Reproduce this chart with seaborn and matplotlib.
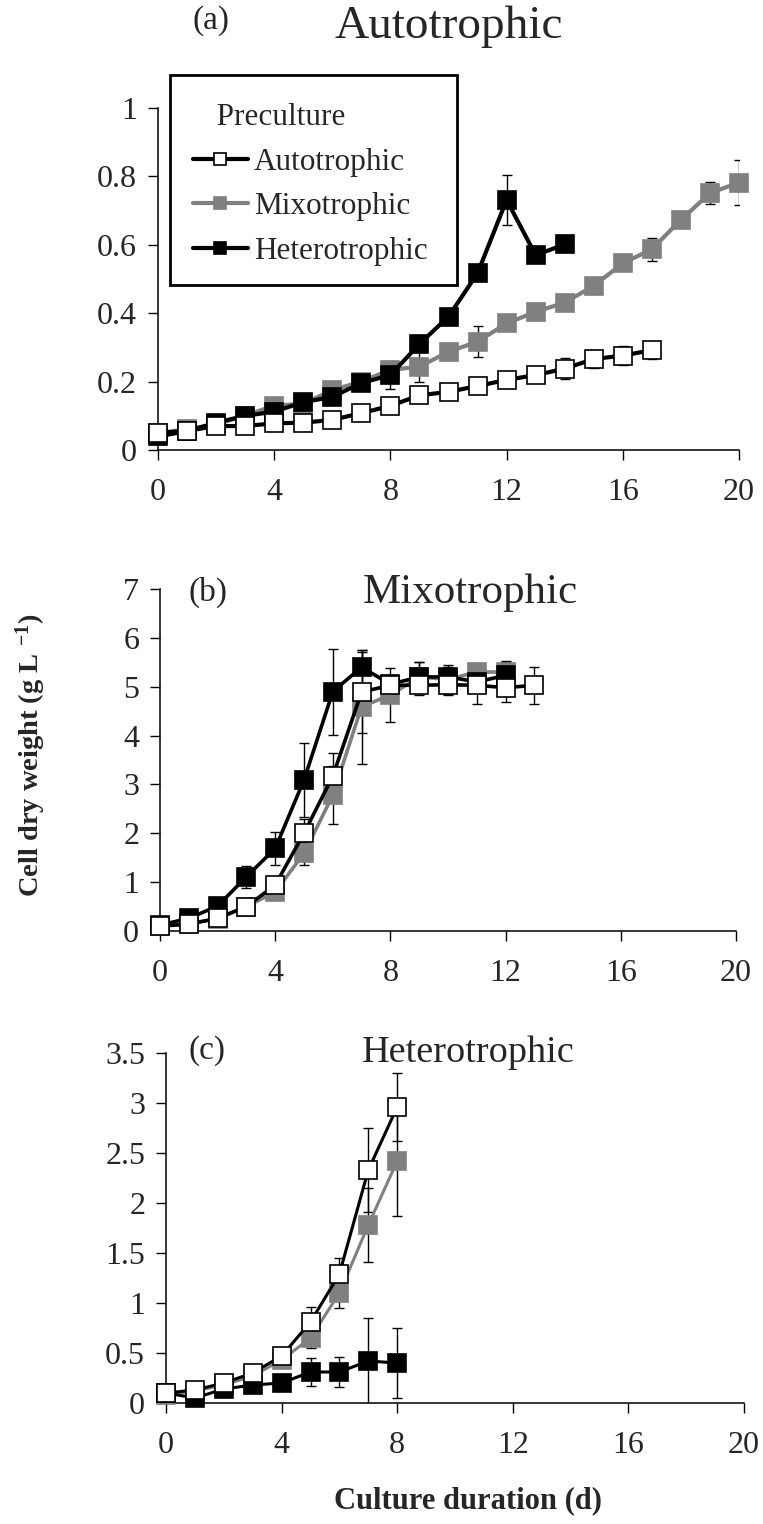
import matplotlib
matplotlib.use("Agg")
import matplotlib.pyplot as plt
from matplotlib.lines import Line2D
from matplotlib.patches import Rectangle
from matplotlib.ticker import FuncFormatter
import seaborn as sns

# ---- data (days, mean, error) ----
labels = ["Autotrophic", "Mixotrophic", "Heterotrophic"]

# (a) autotrophic culture
auto_a = [0.05, 0.056, 0.07, 0.07, 0.078, 0.08, 0.088, 0.108, 0.129, 0.16, 0.17, 0.187,
          0.205, 0.219, 0.238, 0.266, 0.276, 0.292]
auto_a_err = [0, 0, 0, 0, 0, 0, 0, 0, 0, 0, 0, 0, 0, 0, 0.03, 0.025, 0.028, 0.025]
mixo_a = [0.05, 0.06, 0.075, 0.1, 0.13, 0.135, 0.175, 0.2, 0.234, 0.244, 0.287, 0.317,
          0.37, 0.404, 0.431, 0.48, 0.546, 0.587, 0.673, 0.751, 0.782]
mixo_a_err = [0, 0, 0, 0, 0, 0, 0, 0, 0, 0.044, 0, 0.046, 0, 0, 0, 0, 0, 0.033, 0, 0.032, 0.065]
hetero_a = [0.04, 0.055, 0.08, 0.1, 0.112, 0.14, 0.155, 0.196, 0.219, 0.31, 0.39, 0.517,
            0.731, 0.57, 0.601]
hetero_a_err = [0, 0, 0, 0, 0, 0, 0, 0, 0.04, 0, 0, 0, 0.072, 0, 0]

# (b) mixotrophic culture
auto_b = [0.10, 0.14, 0.26, 0.50, 0.94, 2.00, 3.17, 4.89, 5.03, 5.03, 5.04, 5.03, 4.98, 5.03]
auto_b_err = [0, 0, 0, 0, 0, 0.3, 0.48, 0.83, 0.2, 0.2, 0.2, 0.38, 0.3, 0.38]
mixo_b = [0.10, 0.15, 0.25, 0.50, 0.80, 1.59, 2.78, 4.59, 4.83, 5.2, 5.15, 5.3, 5.3]
mixo_b_err = [0, 0, 0, 0, 0, 0.23, 0.6, 1.17, 0.56, 0.3, 0.3, 0.16, 0.2]
hetero_b = [0.12, 0.26, 0.51, 1.11, 1.69, 3.09, 4.90, 5.40, 5.05, 5.2, 5.2, 5.1, 5.23]
hetero_b_err = [0, 0, 0, 0.22, 0.33, 0.75, 0.88, 0.36, 0.2, 0.3, 0.2, 0.2, 0.3]

# (c) heterotrophic culture
auto_c = [0.10, 0.13, 0.20, 0.30, 0.47, 0.81, 1.29, 2.33, 2.96]
auto_c_err = [0, 0, 0, 0, 0, 0.15, 0.16, 0.42, 0.34]
mixo_c = [0.08, 0.12, 0.18, 0.27, 0.43, 0.65, 1.10, 1.78, 2.42]
mixo_c_err = [0, 0, 0, 0, 0, 0.1, 0.15, 0.37, 0.55]
hetero_c = [0.10, 0.05, 0.14, 0.18, 0.20, 0.31, 0.31, 0.42, 0.40]
hetero_c_err = [0, 0, 0, 0, 0, 0.14, 0.15, 0.43, 0.35]

x_ticks = [0, 4, 8, 12, 16, 20]
y_ticks_a = [0, 0.2, 0.4, 0.6, 0.8, 1]
y_ticks_b = [0, 1, 2, 3, 4, 5, 6, 7]
y_ticks_c = [0, 0.5, 1, 1.5, 2, 2.5, 3, 3.5]

# ---- style ----
sns.set_theme(style="ticks")
plt.rcParams["font.family"] = ["Liberation Serif", "DejaVu Serif"]
plt.rcParams["mathtext.default"] = "regular"

GRAY = "#808080"
styles = {
    "Autotrophic": dict(color="black", markerfacecolor="white", markeredgecolor="black", zorder=5),
    "Mixotrophic": dict(color=GRAY, markerfacecolor=GRAY, markeredgecolor=GRAY, zorder=3),
    "Heterotrophic": dict(color="black", markerfacecolor="black", markeredgecolor="black", zorder=4),
}

W, H = 763, 1524
fig = plt.figure(figsize=(W / 100, H / 100), dpi=100)


def px_rect(left, top, right, bottom):
    return [left / W, 1 - bottom / H, (right - left) / W, (bottom - top) / H]


def draw_panel(rect, series, yticks, lw):
    ax = fig.add_axes(rect)
    for name, vals, errs in series:
        days = list(range(len(vals)))
        ax.errorbar(days, vals, yerr=errs, fmt="none", ecolor="black",
                    elinewidth=1, capsize=3.5, capthick=1, zorder=2)
        sns.lineplot(x=days, y=vals, ax=ax, marker="s", markersize=13,
                     markeredgewidth=1.2, linewidth=lw, errorbar=None,
                     legend=False, clip_on=False, **styles[name])
    ax.set_xlim(0, 20)
    ax.set_ylim(yticks[0], yticks[-1])
    ax.set_xticks(x_ticks)
    ax.set_yticks(yticks)
    ax.yaxis.set_major_formatter(FuncFormatter(lambda v, p: f"{v:g}"))
    ax.tick_params(axis="y", direction="out", length=7, width=1, pad=8, labelsize=23, color="black")
    ax.tick_params(axis="x", direction="out", length=7, width=1, pad=13, labelsize=23, color="black")
    ax.set_xlabel("")
    ax.set_ylabel("")
    sns.despine(ax=ax)
    for side in ["left", "bottom"]:
        ax.spines[side].set_color("black")
        ax.spines[side].set_linewidth(1.1)
    ax.set_facecolor("white")
    return ax


ax_a = draw_panel(px_rect(158, 108, 739, 450),
                  [("Mixotrophic", mixo_a, mixo_a_err),
                   ("Heterotrophic", hetero_a, hetero_a_err),
                   ("Autotrophic", auto_a, auto_a_err)],
                  y_ticks_a, 3.0)
ax_b = draw_panel(px_rect(160, 589, 736, 931),
                  [("Mixotrophic", mixo_b, mixo_b_err),
                   ("Heterotrophic", hetero_b, hetero_b_err),
                   ("Autotrophic", auto_b, auto_b_err)],
                  y_ticks_b, 2.6)
ax_c = draw_panel(px_rect(166, 1053, 744, 1403),
                  [("Mixotrophic", mixo_c, mixo_c_err),
                   ("Heterotrophic", hetero_c, hetero_c_err),
                   ("Autotrophic", auto_c, auto_c_err)],
                  y_ticks_c, 2.2)

# panel titles: (tag, title, tag x, title x, tag baseline, title baseline, title size)
for tag, title, xtag, xt, ytag, yt, fs in [("(a)", "Autotrophic", 211, 449, 29, 38, 34),
                                           ("(b)", "Mixotrophic", 208, 470, 601, 603, 31),
                                           ("(c)", "Heterotrophic", 207, 468, 1059, 1062, 27.5)]:
    fig.text(xtag / W, 1 - ytag / H, tag, ha="center", va="baseline", fontsize=24)
    fig.text(xt / W, 1 - yt / H, title, ha="center", va="baseline", fontsize=fs)

# legend (frame drawn separately so the padding can match the original box)
handles = [Line2D([], [], marker="s", markersize=13, markeredgewidth=1.2, linewidth=3.0,
                  **{k: v for k, v in styles[n].items() if k != "zorder"}) for n in labels]
leg = ax_a.legend(handles, labels, title="   Preculture", loc="upper left",
                  bbox_to_anchor=(193 / W, 1 - 103 / H), bbox_transform=fig.transFigure,
                  frameon=False, borderaxespad=0, borderpad=0, fontsize=22.5,
                  title_fontsize=22.5, handlelength=1.75, handletextpad=0.2,
                  labelspacing=0.5, markerscale=0.7, alignment="left")
leg.set_zorder(10)
frame = Rectangle((170 / W, 1 - 285 / H), (457 - 170) / W, (285 - 75) / H,
                  transform=fig.transFigure, facecolor="white", edgecolor="black",
                  linewidth=2, zorder=9, clip_on=False)
ax_a.add_artist(frame)

# shared axis labels
fig.text(31 / W, 1 - 755 / H, "Cell dry weight (g L $^{-1}$)", rotation=90,
         ha="center", va="center", fontsize=20.5, fontweight="bold")
fig.text(468 / W, 1 - 1508 / H, "Culture duration (d)", ha="center", va="baseline",
         fontsize=22, fontweight="bold")

fig.savefig("out.png", dpi=100, facecolor="white")
plt.close(fig)
